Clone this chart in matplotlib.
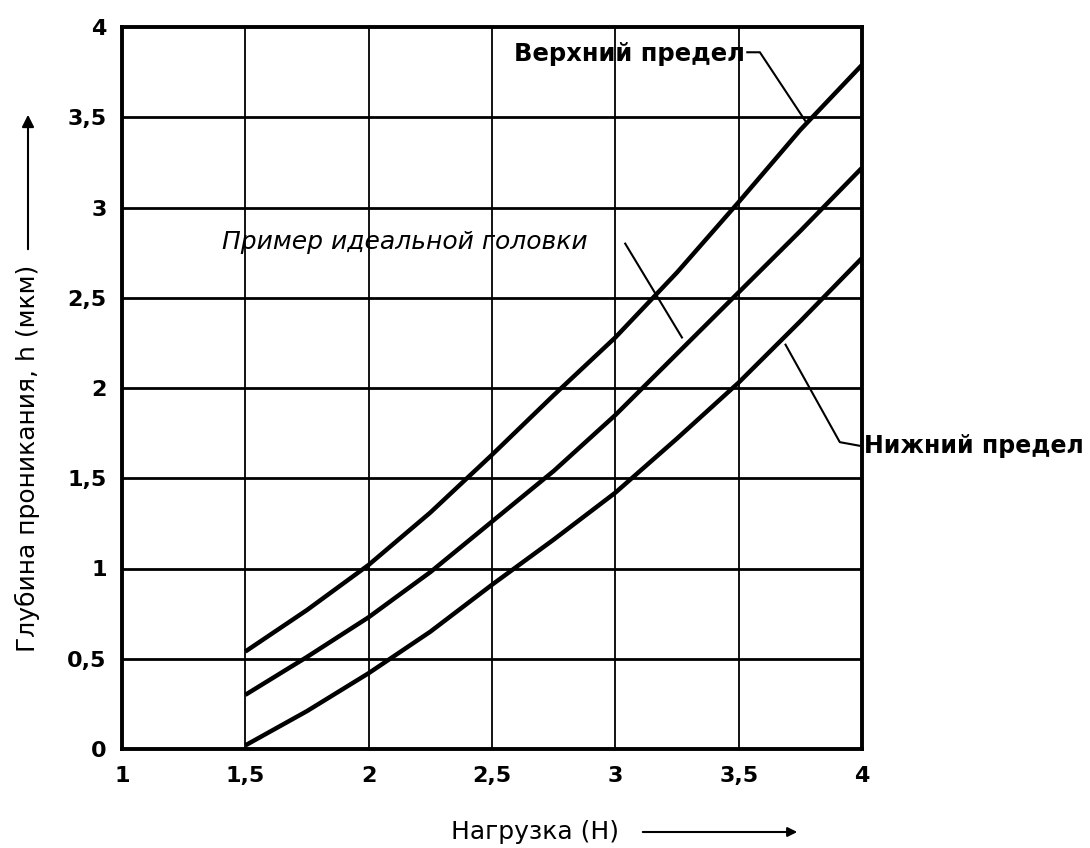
import matplotlib
matplotlib.use("Agg")
import matplotlib.pyplot as plt
from matplotlib.ticker import FixedLocator, FixedFormatter

# ---- data ----
load = [1.5, 1.75, 2.0, 2.25, 2.5, 2.75, 3.0, 3.25, 3.5, 3.75, 4.0]
upper = [0.54, 0.77, 1.02, 1.31, 1.63, 1.96, 2.28, 2.64, 3.03, 3.43, 3.79]
ideal = [0.30, 0.51, 0.73, 0.98, 1.26, 1.54, 1.85, 2.19, 2.53, 2.87, 3.22]
lower = [0.02, 0.21, 0.42, 0.65, 0.91, 1.16, 1.42, 1.72, 2.03, 2.37, 2.72]

x_ticks = [1, 1.5, 2, 2.5, 3, 3.5, 4]
x_tick_labels = ["1", "1,5", "2", "2,5", "3", "3,5", "4"]
y_ticks = [0, 0.5, 1, 1.5, 2, 2.5, 3, 3.5, 4]
y_tick_labels = ["0", "0,5", "1", "1,5", "2", "2,5", "3", "3,5", "4"]

label_upper = "Верхний предел"
label_ideal = "Пример идеальной головки"
label_lower = "Нижний предел"
x_label = "Нагрузка (Н)"
y_label = "Глубина проникания, h (мкм)"

W, H = 1090, 848
fig = plt.figure(figsize=(W / 100, H / 100), dpi=100)
ax = fig.add_axes([122 / W, 1 - 749 / H, (862 - 122) / W, (749 - 27) / H])

ax.set_xlim(1, 4)
ax.set_ylim(0, 4)

for yv in y_ticks[1:-1]:
    ax.axhline(yv, color="black", lw=2.0, zorder=1)
for xv in x_ticks[1:-1]:
    ax.axvline(xv, color="black", lw=1.3, zorder=1)

for ys in (upper, ideal, lower):
    ax.plot(load, ys, color="black", lw=3.2, solid_capstyle="butt", zorder=3)

for s in ax.spines.values():
    s.set_linewidth(2.8)
    s.set_color("black")

ax.xaxis.set_major_locator(FixedLocator(x_ticks))
ax.xaxis.set_major_formatter(FixedFormatter(x_tick_labels))
ax.yaxis.set_major_locator(FixedLocator(y_ticks))
ax.yaxis.set_major_formatter(FixedFormatter(y_tick_labels))
ax.tick_params(axis="both", length=0, labelsize=16, colors="black")
ax.tick_params(axis="x", pad=12)
ax.tick_params(axis="y", pad=11)
for lbl in ax.get_xticklabels() + ax.get_yticklabels():
    lbl.set_fontweight("bold")

# annotations
ax.text(2.59, 3.85, label_upper, fontsize=17.5, fontweight="bold", ha="left", va="center", zorder=4)
ax.plot([3.535, 3.586, 3.77], [3.86, 3.86, 3.48], color="black", lw=1.5, zorder=4)

ax.text(1.405, 2.81, label_ideal, fontsize=18, style="italic", ha="left", va="center", zorder=4)
ax.plot([3.04, 3.27], [2.80, 2.28], color="black", lw=1.5, zorder=4)

ax.text(4.01, 1.68, label_lower, fontsize=17, fontweight="bold", ha="left", va="center",
        clip_on=False, zorder=4)
ax.plot([3.69, 3.91, 3.99], [2.24, 1.70, 1.68], color="black", lw=1.5, clip_on=False, zorder=4)

# axis labels with arrows
fig.text(27 / W, 1 - 458 / H, y_label, rotation=90, fontsize=18, ha="center", va="center")
fig.add_artist(matplotlib.patches.FancyArrowPatch(
    (28 / W, 1 - 252 / H), (28 / W, 1 - 112 / H), transform=fig.transFigure,
    arrowstyle="-|>", mutation_scale=18, lw=1.5, color="black"))

fig.text(535 / W, 1 - 832 / H, x_label, fontsize=18, ha="center", va="center")
fig.add_artist(matplotlib.patches.FancyArrowPatch(
    (640 / W, 1 - 832 / H), (800 / W, 1 - 832 / H), transform=fig.transFigure,
    arrowstyle="-|>", mutation_scale=14, lw=1.5, color="black"))

fig.savefig("out.png", dpi=100, facecolor="white")
